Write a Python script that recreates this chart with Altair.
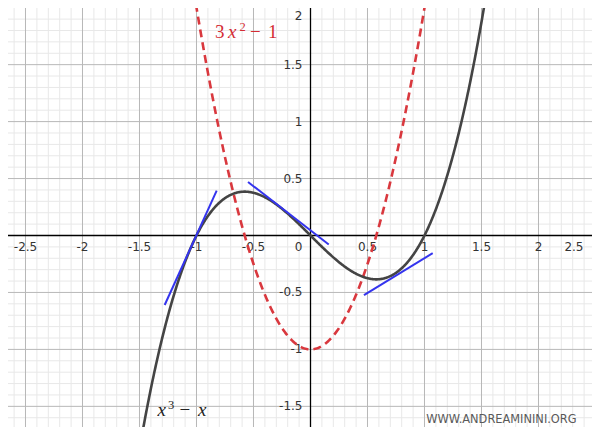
import altair as alt
import numpy as np
import pandas as pd

# ---- data ----
# functions shown in the picture: f(x) = x^3 - x (solid), f'(x) = 3x^2 - 1 (dashed)
cubic_coef = [1, 0, -1, 0]          # x^3 - x
deriv_coef = [3, 0, -1]             # 3x^2 - 1

# tangent segments (blue), endpoints
tan_x1 = [-1.279, -0.548, 0.469]
tan_y1 = [-0.610, 0.470, -0.523]
tan_x2 = [-0.823, 0.160, 1.072]
tan_y2 = [0.394, -0.079, -0.155]

# axis tick labels
x_ticks = [-2.5, -2, -1.5, -1, -0.5, 0.5, 1, 1.5, 2]
x_tick_labels = ["-2.5", "-2", "-1.5", "-1", "-0.5", "0.5", "1", "1.5", "2"]
x_edge_tick = [2.5]
x_edge_label = ["2.5"]
y_ticks = [-1.5, -1, -0.5, 0.5, 1, 1.5]
y_tick_labels = ["-1.5", "-1", "-0.5", "0.5", "1", "1.5"]
y_top_tick = [2]
y_top_label = ["2"]

# view window
X_DOM = [-2.6535, 2.4693]
Y_DOM = [-1.6813, 1.9974]
W, H = 584, 419

xs = alt.Scale(domain=X_DOM, nice=False, zero=False)
ys = alt.Scale(domain=Y_DOM, nice=False, zero=False)

xgrid = np.round(np.arange(-2.6, 2.45, 0.1), 2)
minor = pd.DataFrame({"v": [v for v in xgrid if abs(round(v * 2) - v * 2) > 1e-6]})
major_x = pd.DataFrame({"v": [-2.5, -2, -1.5, -1, -0.5, 0.5, 1, 1.5, 2]})
ygrid = np.round(np.arange(-1.6, 2.0, 0.1), 2)
minor_y = pd.DataFrame({"v": [v for v in ygrid if abs(round(v * 2) - v * 2) > 1e-6]})
major_y = pd.DataFrame({"v": [-1.5, -1, -0.5, 0.5, 1, 1.5]})

xx = np.round(np.arange(-1.8, 1.8001, 0.005), 4)
cubic = pd.DataFrame({"x": xx, "y": np.polyval(cubic_coef, xx)})
deriv = pd.DataFrame({"x": xx, "y": np.polyval(deriv_coef, xx)})
tangents = pd.DataFrame({"x": tan_x1, "y": tan_y1, "x2": tan_x2, "y2": tan_y2})
xlab = pd.DataFrame({"v": x_ticks, "t": x_tick_labels, "z": 0})
xedge = pd.DataFrame({"v": x_edge_tick, "t": x_edge_label, "z": 0})
ylab = pd.DataFrame({"v": y_ticks, "t": y_tick_labels, "z": 0})
ytop = pd.DataFrame({"v": y_top_tick, "t": y_top_label, "z": 0})

vx_minor = alt.Chart(minor).mark_rule(color="#e8e8e8", strokeWidth=1).encode(x=alt.X("v:Q", scale=xs, axis=None))
hy_minor = alt.Chart(minor_y).mark_rule(color="#e8e8e8", strokeWidth=1).encode(y=alt.Y("v:Q", scale=ys, axis=None))
vx_major = alt.Chart(major_x).mark_rule(color="#b8b8b8", strokeWidth=1).encode(x=alt.X("v:Q", scale=xs, axis=None))
hy_major = alt.Chart(major_y).mark_rule(color="#b8b8b8", strokeWidth=1).encode(y=alt.Y("v:Q", scale=ys, axis=None))

axes_df = pd.DataFrame({"v": [0]})
x_axis = alt.Chart(axes_df).mark_rule(color="#000000", strokeWidth=1.3).encode(y=alt.Y("v:Q", scale=ys, axis=None))
y_axis = alt.Chart(axes_df).mark_rule(color="#000000", strokeWidth=1.3).encode(x=alt.X("v:Q", scale=xs, axis=None))

lab_font = "DejaVu Sans"
x_labels = alt.Chart(xlab).mark_text(font=lab_font, fontSize=12, color="#333333", baseline="middle", align="center", dy=11).encode(
    x=alt.X("v:Q", scale=xs, axis=None), y=alt.Y("z:Q", scale=ys, axis=None), text="t:N")
x_edge_mark = alt.Chart(xedge).mark_text(font=lab_font, fontSize=12, color="#333333", baseline="middle", align="right", dx=-12, dy=11).encode(
    x=alt.X("v:Q", scale=xs, axis=None), y=alt.Y("z:Q", scale=ys, axis=None), text="t:N")
y_labels = alt.Chart(ylab).mark_text(font=lab_font, fontSize=12, color="#333333", baseline="middle", align="right", dx=-8).encode(
    x=alt.X("z:Q", scale=xs, axis=None), y=alt.Y("v:Q", scale=ys, axis=None), text="t:N")
y_top_label_mark = alt.Chart(ytop).mark_text(font=lab_font, fontSize=12, color="#333333", baseline="middle", align="right", dx=-8, dy=8).encode(
    x=alt.X("z:Q", scale=xs, axis=None), y=alt.Y("v:Q", scale=ys, axis=None), text="t:N")
zero_label = alt.Chart(pd.DataFrame({"v": [0], "t": ["0"]})).mark_text(font=lab_font, fontSize=12, color="#333333", baseline="middle", align="center", dx=-12, dy=11).encode(
    x=alt.X("v:Q", scale=xs, axis=None), y=alt.Y("v:Q", scale=ys, axis=None), text="t:N")

red_line = alt.Chart(deriv).mark_line(color="#d9383e", strokeWidth=2.6, strokeDash=[8, 5], clip=True).encode(
    x=alt.X("x:Q", scale=xs, axis=None), y=alt.Y("y:Q", scale=ys, axis=None), order="x:Q")
black_line = alt.Chart(cubic).mark_line(color="#444444", strokeWidth=2.6, clip=True).encode(
    x=alt.X("x:Q", scale=xs, axis=None), y=alt.Y("y:Q", scale=ys, axis=None), order="x:Q")
tan_rules = alt.Chart(tangents).mark_rule(color="#3434ee", strokeWidth=2).encode(
    x=alt.X("x:Q", scale=xs, axis=None), y=alt.Y("y:Q", scale=ys, axis=None), x2="x2:Q", y2="y2:Q")

# formula annotations (anchored in data coordinates)
serif = "Liberation Serif"
def piece(x, y, text, dx, size, color, style="normal", dy=0):
    return alt.Chart(pd.DataFrame({"x": [x], "y": [y], "t": [text]})).mark_text(
        font=serif, fontSize=size, fontStyle=style, color=color, align="left", baseline="alphabetic", dx=dx, dy=dy
    ).encode(x=alt.X("x:Q", scale=xs, axis=None), y=alt.Y("y:Q", scale=ys, axis=None), text="t:N")

red = "#d42c34"
ax, ay = -0.838, 1.738   # anchor of "3 x^2 - 1"
red_lab = [
    piece(ax, ay, "3", 0, 19, red),
    piece(ax, ay, "x", 13, 19, red, "italic"),
    piece(ax, ay, "2", 24.5, 12.5, red, dy=-7),
    piece(ax, ay, "\u2212", 35, 19, red),
    piece(ax, ay, "1", 53, 19, red),
]
dark = "#222222"
bx, by = -1.343, -1.586  # anchor of "x^3 - x"
black_lab = [
    piece(bx, by, "x", 0, 19, dark, "italic"),
    piece(bx, by, "3", 10.5, 12.5, dark, dy=-7.5),
    piece(bx, by, "\u2212", 22, 19, dark),
    piece(bx, by, "x", 40.5, 19, dark, "italic"),
]

watermark = alt.Chart(pd.DataFrame({"x": [2.334], "y": [-1.618], "t": ["WWW.ANDREAMININI.ORG"]})).mark_text(
    font="DejaVu Sans", fontSize=11.4, color="#5a5a5a", align="right", baseline="middle"
).encode(x=alt.X("x:Q", scale=xs, axis=None), y=alt.Y("y:Q", scale=ys, axis=None), text="t:N")

chart = alt.layer(
    vx_minor, hy_minor, vx_major, hy_major, x_axis, y_axis,
    x_labels, x_edge_mark, y_labels, y_top_label_mark, zero_label,
    red_line, black_line, tan_rules,
    *red_lab, *black_lab, watermark
).properties(
    width=W, height=H, padding=0, background="white",
    autosize=alt.AutoSizeParams(type="none")
).configure_view(stroke=None)

chart.save("out.html", embed_options={"renderer": "svg", "actions": False})
